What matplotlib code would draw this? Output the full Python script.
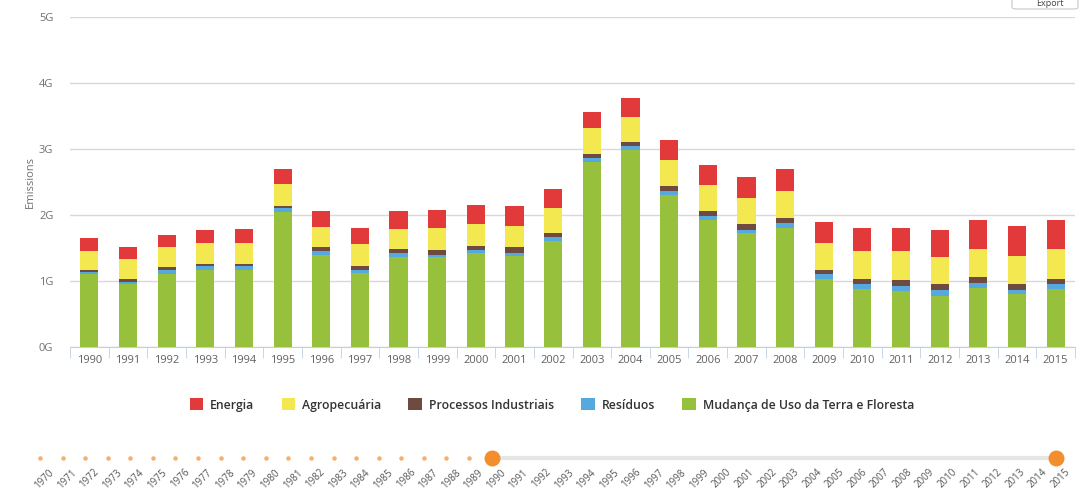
import numpy as np
from matplotlib import pyplot as plt
from matplotlib.patches import FancyBboxPatch

years = list(range(1990, 2016))
mudanca = [1.10, 0.95, 1.11, 1.17, 1.17, 2.05, 1.40, 1.12, 1.36, 1.36, 1.42, 1.38, 1.61,
           2.81, 2.99, 2.31, 1.92, 1.73, 1.81, 1.03, 0.88, 0.85, 0.78, 0.90, 0.80, 0.88]
residuos = [0.03, 0.03, 0.05, 0.05, 0.05, 0.05, 0.06, 0.05, 0.06, 0.04, 0.05, 0.05, 0.05,
            0.05, 0.05, 0.05, 0.06, 0.05, 0.07, 0.08, 0.08, 0.07, 0.08, 0.07, 0.07, 0.07]
processos = [0.04, 0.05, 0.05, 0.04, 0.04, 0.04, 0.06, 0.06, 0.06, 0.07, 0.06, 0.08, 0.07,
             0.06, 0.07, 0.08, 0.08, 0.08, 0.07, 0.06, 0.07, 0.10, 0.09, 0.09, 0.08, 0.08]
agro = [0.29, 0.30, 0.30, 0.31, 0.32, 0.33, 0.30, 0.33, 0.31, 0.33, 0.34, 0.33, 0.37,
        0.40, 0.38, 0.40, 0.40, 0.40, 0.41, 0.41, 0.43, 0.44, 0.42, 0.42, 0.43, 0.45]
energia = [0.19, 0.19, 0.18, 0.20, 0.21, 0.22, 0.24, 0.24, 0.27, 0.28, 0.28, 0.29, 0.29,
           0.24, 0.29, 0.30, 0.30, 0.31, 0.33, 0.31, 0.35, 0.35, 0.40, 0.44, 0.46, 0.44]

series = [('Mudança de Uso da Terra e Floresta', mudanca, '#97c13c'),
          ('Resíduos', residuos, '#55a9df'),
          ('Processos Industriais', processos, '#6e4a40'),
          ('Agropecuária', agro, '#f3e84f'),
          ('Energia', energia, '#e2393a')]

timeline_years = list(range(1970, 2016))

plt.rcParams['font.family'] = ['Open Sans', 'DejaVu Sans']
fig = plt.figure(figsize=(10.89, 4.99), dpi=100)

W, H = 1089., 499.
ax = fig.add_axes([70 / W, 1 - 347 / H, 1005 / W, 330 / H])

x = np.arange(len(years))
bottom = np.zeros(len(years))
handles = {}
for name, vals, col in series:
    b = ax.bar(x, vals, width=0.47, bottom=bottom, color=col, label=name, zorder=3)
    handles[name] = b
    bottom += np.array(vals)

ax.set_xlim(-0.5, len(years) - 0.5)
ax.set_ylim(0, 5)
ax.set_yticks(range(6))
ax.set_yticklabels(['%dG' % v for v in range(6)])
ax.yaxis.grid(True, color='#d8d8d8', lw=1, zorder=0)
for s in ['left', 'right', 'top']:
    ax.spines[s].set_visible(False)
ax.spines['bottom'].set_color('#c0d0e0')
ax.tick_params(axis='y', length=0, labelsize=8, labelcolor='#707070', pad=12)
ax.set_xticks(x)
ax.set_xticklabels([str(y) for y in years])
ax.set_xticks(np.arange(-0.5, len(years)), minor=True)
ax.tick_params(axis='x', which='major', length=0, labelsize=8, labelcolor='#606060', pad=6)
ax.tick_params(axis='x', which='minor', length=8, color='#c0d0e0')
ax.set_ylabel('Emissions', fontsize=8, color='#707070', labelpad=2)

order = ['Energia', 'Agropecuária', 'Processos Industriais', 'Resíduos',
         'Mudança de Uso da Terra e Floresta']
leg = fig.legend([handles[n] for n in order], order, loc='center', ncol=5,
                 bbox_to_anchor=(552 / W, 1 - 405 / H), frameon=False,
                 fontsize=8.8, handlelength=1.1, handleheight=1.1,
                 columnspacing=2.2, handletextpad=0.6)
for t in leg.get_texts():
    t.set_color('#333333')
    t.set_fontweight('semibold')

# timeline navigator (y in pixels below y=439)
tx = fig.add_axes([0, 0, 1, 60 / H])
tx.set_xlim(1970 - 40 / 22.58, 1970 + (W - 40) / 22.58)
tx.set_ylim(60, 0)
tx.axis('off')
tx.plot([1990, 2015], [19, 19], color='#e6e6e6', lw=3, zorder=1)
small = [y for y in timeline_years if y < 1990]
tx.scatter(small, [19] * len(small), s=5, color='#f5b070', zorder=2)
tx.scatter([1990, 2015], [19, 19], s=110, color='#f28f2c', zorder=3)
for yr in timeline_years:
    tx.text(yr + 0.38, 28, str(yr), rotation=45, ha='right', va='top',
            rotation_mode='anchor', fontsize=7, color='#555555')

# export button at the top edge
btn = FancyBboxPatch((1012 / W, 1 - 9 / H), 66 / W, 16 / H,
                     boxstyle='round,pad=0,rounding_size=0.004',
                     transform=fig.transFigure, facecolor='white',
                     edgecolor='#c8c8c8', lw=0.8)
fig.patches.append(btn)
fig.text(1050 / W, 1 - 3.5 / H, 'Export', fontsize=6.5, color='#444444',
         ha='center', va='center')

fig.savefig('out.png', dpi=100)
